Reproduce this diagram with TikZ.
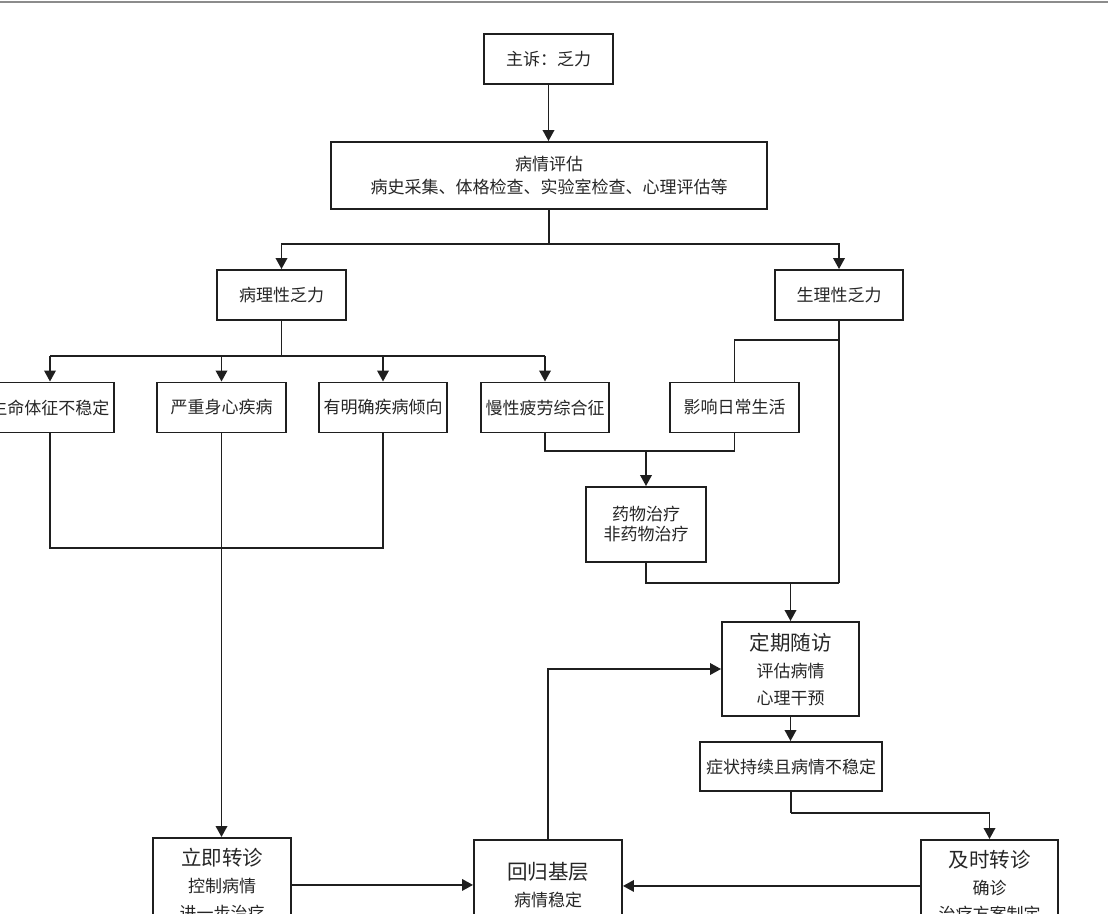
\documentclass[tikz,border=0pt]{standalone}
\usepackage{fontspec}
\setmainfont{Noto Sans CJK SC}
\usetikzlibrary{arrows.meta}
\tikzset{
  box/.style={draw=black!88, line width=1.9pt, fill=white, inner sep=0pt, align=center,
              text=black!85, font=\fontsize{17}{20}\selectfont},
  txt/.style={inner sep=0pt, text=black!85, font=\fontsize{17}{20}\selectfont},
  ttl/.style={inner sep=0pt, text=black!85, font=\fontsize{20.5}{24}\selectfont},
  conn/.style={draw=black!88, line width=1.9pt},
  arr/.style={conn, -{Triangle[width=11.5pt,length=11pt]}},
}
\begin{document}
\begin{tikzpicture}[x=1pt,y=-1pt]
\useasboundingbox (0,0) rectangle (1108,913);
\clip (0,0) rectangle (1108,913);
\fill[black!45] (0,1) rectangle (1108,3);

% nodes
\node[box, minimum width=129pt, minimum height=50pt] (zs) at (548.5,59) {主诉：乏力};
\node[box, minimum width=436pt, minimum height=67pt, font=\fontsize{17}{23}\selectfont] (pg) at (549,175.5) {病情评估\\病史采集、体格检查、实验室检查、心理评估等};
\node[box, minimum width=129pt, minimum height=50pt] (bl) at (281.5,295) {病理性乏力};
\node[box, minimum width=128pt, minimum height=50pt] (sl) at (839,295) {生理性乏力};

\node[box, minimum width=128pt, minimum height=50pt] (n1) at (50,407.5) {生命体征不稳定};
\node[box, minimum width=129pt, minimum height=50pt] (n2) at (221.5,407.5) {严重身心疾病};
\node[box, minimum width=128pt, minimum height=50pt] (n3) at (383,407.5) {有明确疾病倾向};
\node[box, minimum width=128pt, minimum height=50pt] (n4) at (545,407.5) {慢性疲劳综合征};
\node[box, minimum width=129pt, minimum height=50pt] (n5) at (734.5,407.5) {影响日常生活};

\node[box, minimum width=120pt, minimum height=75pt, font=\fontsize{17}{20}\selectfont] (yw) at (646,524.5) {药物治疗\\非药物治疗};

\node[box, minimum width=137pt, minimum height=94pt] (dq) at (790.5,669) {};
\node[ttl] (dqt) at (790.5,643) {定期随访};
\node[txt] (dq1) at (790.5,671) {评估病情};
\node[txt] (dq2) at (790.5,698) {心理干预};

\node[box, minimum width=182pt, minimum height=49pt] (zz) at (791,766.5) {症状持续且病情不稳定};

\node[box, anchor=north, minimum width=138pt, minimum height=94pt] (lj) at (222,837) {};
\node[ttl] (ljt) at (222,858) {立即转诊};
\node[txt] (lj1) at (222,886) {控制病情};
\node[txt] (lj2) at (222,913) {进一步治疗};

\node[box, anchor=north, minimum width=148pt, minimum height=94pt] (hg) at (548,839) {};
\node[ttl] (hgt) at (548,872) {回归基层};
\node[txt] (hg1) at (548,900) {病情稳定};

\node[box, anchor=north, minimum width=137pt, minimum height=92pt] (js) at (989.5,839) {};
\node[ttl] (jst) at (989.5,860) {及时转诊};
\node[txt] (js1) at (989.5,888) {确诊};
\node[txt] (js2) at (989.5,914) {治疗方案制定};

% coordinates
\coordinate (c1) at (549,244);
\coordinate (c2) at (281.5,356);
\coordinate (c3) at (839,340);
\coordinate (c4) at (646,451);
\coordinate (c6) at (839,583);
\coordinate (c7) at (791,813);
\coordinate (c8) at (50,548);

% connectors
\draw[arr] (zs.south) -- (zs.south |- pg.north);
\draw[conn] (pg.south) -- (c1);
\draw[arr] (c1) -| (bl.north);
\draw[arr] (c1) -| (sl.north);

\draw[conn] (bl.south) -- (c2);
\draw[conn] (n1.north |- c2) -- (n4.north |- c2);
\draw[arr] (n1.north |- c2) -- (n1.north);
\draw[arr] (n2.north |- c2) -- (n2.north);
\draw[arr] (n3.north |- c2) -- (n3.north);
\draw[arr] (n4.north |- c2) -- (n4.north);

\draw[conn] (sl.south) -- (c3) -| (n5.north);
\draw[conn] (c3) -- (c6);

\draw[conn] (n4.south) |- (c4) -| (n5.south);
\draw[arr] (c4) -- (yw.north);

\draw[conn] (yw.south) |- (c6);
\draw[arr] (dq.north |- c6) -- (dq.north);
\draw[arr] (dq.south) -- (dq.south |- zz.north);
\draw[conn] (zz.south) -- (c7);
\draw[arr] (c7) -| (js.north);

\draw[conn] (n1.south) -- (c8) -- (c8 -| n3.south) -- (n3.south);
\draw[arr] (n2.south) -- (n2.south |- lj.north);

\draw[arr] (lj.east) -- (lj.east -| hg.west);
\draw[arr] (js.west) -- (js.west -| hg.east);
\draw[arr] (hg.north) |- (dq.west);
\end{tikzpicture}
\end{document}
